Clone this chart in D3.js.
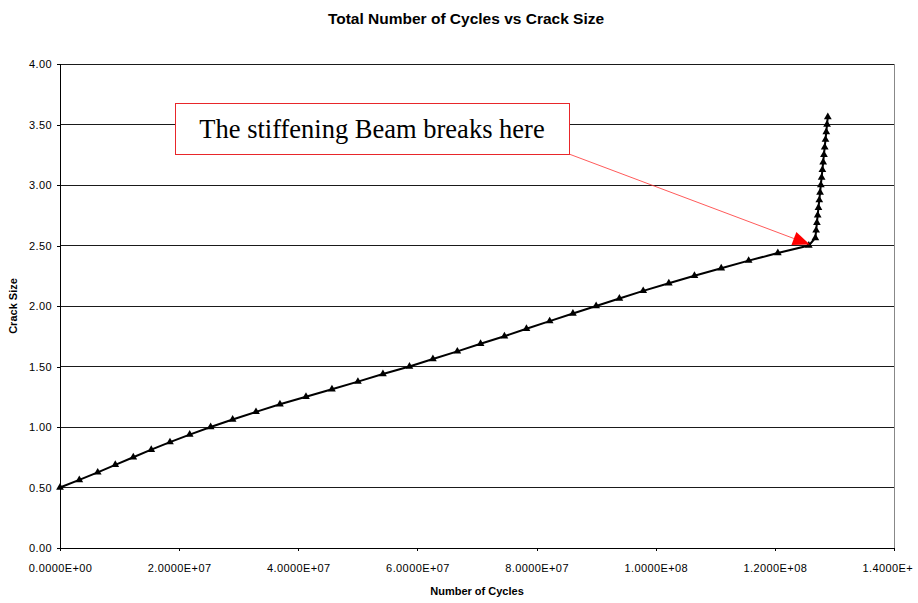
<!DOCTYPE html>
<html>
<head>
<meta charset="utf-8">
<script src="https://cdn.jsdelivr.net/npm/d3@7/dist/d3.min.js"></script>
<style>
body{margin:0;background:#fff;}
text{font-family:"Liberation Sans",Arial,sans-serif;fill:#000;}
</style>
</head>
<body>
<div id="canvas" class="canvas"></div>
<script>
//data
var cycles = [0, 3.24e6, 6.33e6, 9.28e6, 1.230e7, 1.532e7, 1.846e7, 2.177e7, 2.529e7,
    2.898e7, 3.290e7, 3.692e7, 4.129e7, 4.565e7, 5.001e7, 5.421e7, 5.866e7,
    6.26e7, 6.67e7, 7.06e7, 7.46e7, 7.83e7, 8.22e7, 8.61e7, 9.00e7,
    9.39e7, 9.79e7, 1.022e8, 1.065e8, 1.110e8, 1.156e8, 1.205e8, 1.257e8,
    1.2680e8, 1.2693e8, 1.2706e8, 1.2719e8, 1.2732e8, 1.2746e8, 1.2759e8, 1.2772e8,
    1.2785e8, 1.2798e8, 1.2811e8, 1.2824e8, 1.2837e8, 1.2850e8, 1.2863e8, 1.2876e8, 1.2889e8];
var crackSize = [0.5, 0.5625, 0.625, 0.6875, 0.75, 0.8125, 0.875, 0.9375, 1.0,
    1.0625, 1.125, 1.1875, 1.25, 1.3125, 1.375, 1.4375, 1.5,
    1.5625, 1.625, 1.6875, 1.75, 1.8125, 1.875, 1.9375, 2.0,
    2.0625, 2.125, 2.1875, 2.25, 2.3125, 2.375, 2.4375, 2.5,
    2.5625, 2.625, 2.6875, 2.75, 2.8125, 2.875, 2.9375, 3.0,
    3.0625, 3.125, 3.1875, 3.25, 3.3125, 3.375, 3.4375, 3.5, 3.5625];
var yTicks = [0, 0.5, 1, 1.5, 2, 2.5, 3, 3.5, 4];
var yTickLabels = ['0.00', '0.50', '1.00', '1.50', '2.00', '2.50', '3.00', '3.50', '4.00'];
var xTicks = [0, 2e7, 4e7, 6e7, 8e7, 1e8, 1.2e8, 1.4e8];
var xTickLabels = ['0.0000E+00', '2.0000E+07', '4.0000E+07', '6.0000E+07', '8.0000E+07',
    '1.0000E+08', '1.2000E+08', '1.4000E+'];
var breakIndex = 32;
var noteText = 'The stiffening Beam breaks here';

var W = 918, H = 603;
var m = {t:64, r:24, b:55, l:60};
var w = W - m.l - m.r,
    h = H - m.t - m.b;

var svg = d3.select('.canvas')
    .append('svg')
    .attr('width', W)
    .attr('height', H);

var plot = svg.append('g')
    .attr('transform', 'translate(' + m.l + ',' + m.t + ')');

var scaleX = d3.scaleLinear().domain([0, 1.4e8]).range([0, w]);
var scaleY = d3.scaleLinear().domain([0, 4]).range([h, 0]);

//gridlines
plot.selectAll('.grid')
    .data(yTicks.slice(1))
    .enter().append('line')
    .attr('class', 'grid')
    .attr('x1', 0).attr('x2', w)
    .attr('y1', function(d){ return scaleY(d); })
    .attr('y2', function(d){ return scaleY(d); })
    .attr('stroke', '#1a1a1a')
    .attr('shape-rendering', 'crispEdges');

//right border
plot.append('line')
    .attr('x1', w).attr('x2', w).attr('y1', 0).attr('y2', h)
    .attr('stroke', '#888')
    .attr('shape-rendering', 'crispEdges');

//axes
var axisY = d3.axisLeft(scaleY)
    .tickValues(yTicks)
    .tickSize(3)
    .tickPadding(5)
    .tickFormat(function(d, i){ return yTickLabels[i]; });

plot.append('g').attr('class', 'axis axis-y').call(axisY);

var axisX = d3.axisBottom(scaleX)
    .tickValues(xTicks)
    .tickSize(3)
    .tickPadding(13)
    .tickFormat(function(d, i){ return xTickLabels[i]; });

plot.append('g')
    .attr('class', 'axis axis-x')
    .attr('transform', 'translate(0,' + h + ')')
    .call(axisX);

plot.selectAll('.axis path, .axis line')
    .attr('stroke', '#000')
    .attr('shape-rendering', 'crispEdges');
plot.selectAll('.axis text')
    .attr('font-family', '"Liberation Sans",Arial,sans-serif')
    .attr('font-size', 11)
    .attr('letter-spacing', 0.4)
    .attr('fill', '#000');
//last label is cut short in the original, keep it left-aligned so it stays inside
plot.selectAll('.axis-x .tick text')
    .filter(function(d, i){ return i === xTicks.length - 1; })
    .attr('text-anchor', 'start')
    .attr('x', -32);

//series
var points = cycles.map(function(c, i){ return {x: c, y: crackSize[i]}; });

var line = d3.line()
    .x(function(d){ return scaleX(d.x); })
    .y(function(d){ return scaleY(d.y); });

plot.append('path')
    .datum(points)
    .attr('d', line)
    .attr('fill', 'none')
    .attr('stroke', '#000')
    .attr('stroke-width', 2);

plot.selectAll('.pt')
    .data(points)
    .enter().append('path')
    .attr('class', 'pt')
    .attr('d', d3.symbol().type(d3.symbolTriangle).size(26))
    .attr('transform', function(d){ return 'translate(' + scaleX(d.x) + ',' + scaleY(d.y) + ')'; })
    .attr('fill', '#000');

//annotation
var box = {x:175, y:103, w:394, h:51};
svg.append('rect')
    .attr('x', box.x + 0.5).attr('y', box.y + 0.5)
    .attr('width', box.w).attr('height', box.h)
    .attr('fill', '#fff')
    .attr('stroke', '#e8262a');

svg.append('text')
    .attr('x', box.x + box.w / 2)
    .attr('y', 138)
    .attr('text-anchor', 'middle')
    .style('font-family', '"Liberation Serif","Times New Roman",serif')
    .style('font-size', '26.5px')
    .text(noteText);

var tip = {x: m.l + scaleX(cycles[breakIndex]) + 1, y: m.t + scaleY(crackSize[breakIndex]) - 1};
var start = {x: box.x + box.w, y: box.y + box.h};
var ang = Math.atan2(tip.y - start.y, tip.x - start.x);
var hl = 17, hw = 7;
var base = {x: tip.x - hl * Math.cos(ang), y: tip.y - hl * Math.sin(ang)};

svg.append('line')
    .attr('x1', start.x).attr('y1', start.y)
    .attr('x2', base.x).attr('y2', base.y)
    .attr('stroke', '#ff3030')
    .attr('stroke-width', 0.8);

svg.append('path')
    .attr('d', 'M' + tip.x + ',' + tip.y +
        'L' + (base.x - hw * Math.sin(ang)) + ',' + (base.y + hw * Math.cos(ang)) +
        'L' + (base.x + hw * Math.sin(ang)) + ',' + (base.y - hw * Math.cos(ang)) + 'Z')
    .attr('fill', '#ff0000');

//titles
svg.append('text')
    .attr('x', 466).attr('y', 24)
    .attr('text-anchor', 'middle')
    .style('font-weight', 'bold')
    .style('font-size', '15.5px')
    .text('Total Number of Cycles vs Crack Size');

svg.append('text')
    .attr('x', m.l + w / 2).attr('y', 595)
    .attr('text-anchor', 'middle')
    .style('font-weight', 'bold')
    .style('font-size', '11px')
    .text('Number of Cycles');

svg.append('text')
    .attr('transform', 'translate(17,' + (m.t + h / 2) + ') rotate(-90)')
    .attr('text-anchor', 'middle')
    .style('font-weight', 'bold')
    .style('font-size', '11px')
    .text('Crack Size');
</script>
</body>
</html>
